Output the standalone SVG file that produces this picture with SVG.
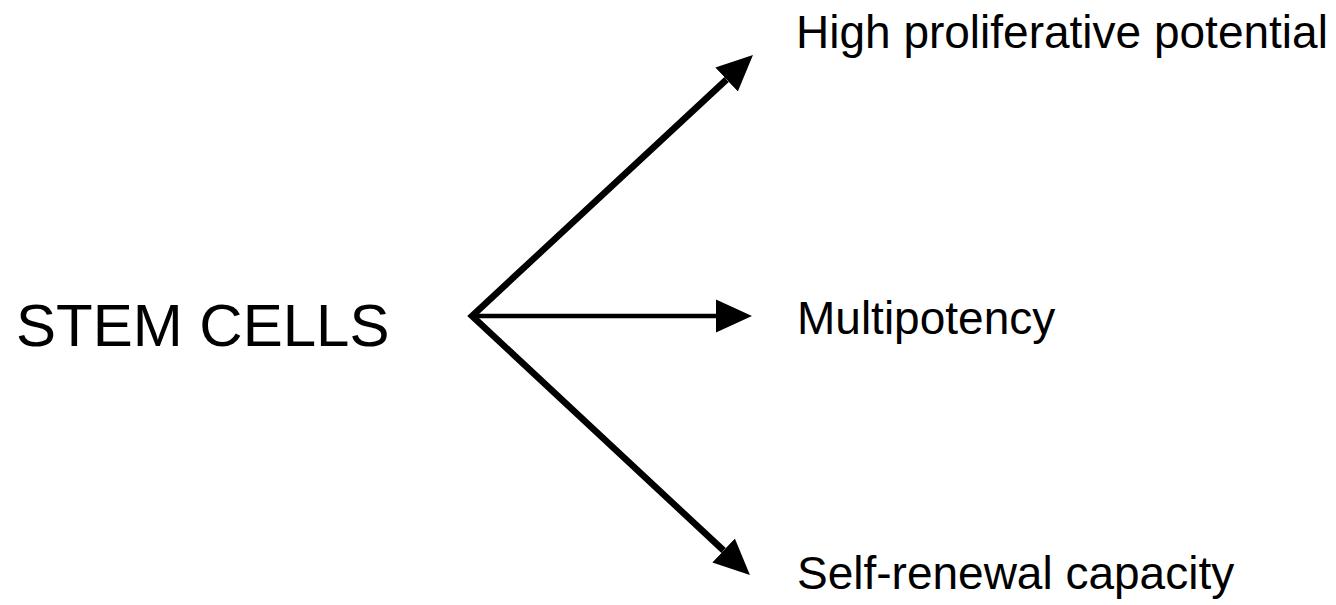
<svg xmlns="http://www.w3.org/2000/svg" width="1336" height="605" viewBox="0 0 1336 605">
  <style>
    .label { font-family: "Liberation Sans", Arial, Helvetica, sans-serif; fill: #000; }
    .title { font-size: 60px; }
    .prop { font-size: 46px; }
    .arrow { fill: none; stroke: #000; stroke-linejoin: miter; stroke-miterlimit: 20; }
    .diag { stroke-width: 6.5; }
    .flat { stroke-width: 4.5; }
  </style>
  <defs>
    <marker id="head" viewBox="0 -17 36 34" refX="0" refY="0" markerWidth="36" markerHeight="34" markerUnits="userSpaceOnUse" orient="auto-start-reverse">
      <path d="M0,-16.5 L36,0 L0,16.5 Z" fill="#000"/>
    </marker>
  </defs>
  <rect width="1336" height="605" fill="#fff"/>

  <g id="stem-cells">
    <text class="label title" x="16" y="346">STEM CELLS</text>
  </g>

  <g id="connectors">
    <!-- the two diagonal branches share a pointed vertex -->
    <path class="arrow diag" d="M726.6,79.5 L472,316 L723.6,550.5" marker-start="url(#head)" marker-end="url(#head)"/>
    <line class="arrow flat" x1="472" y1="316" x2="716" y2="316" marker-end="url(#head)"/>
  </g>

  <g id="high-proliferative">
    <text class="label prop" x="796" y="48">High proliferative potential</text>
  </g>
  <g id="multipotency">
    <text class="label prop" x="797" y="334">Multipotency</text>
  </g>
  <g id="self-renewal">
    <text class="label prop" x="797" y="589">Self-renewal capacity</text>
  </g>
</svg>
